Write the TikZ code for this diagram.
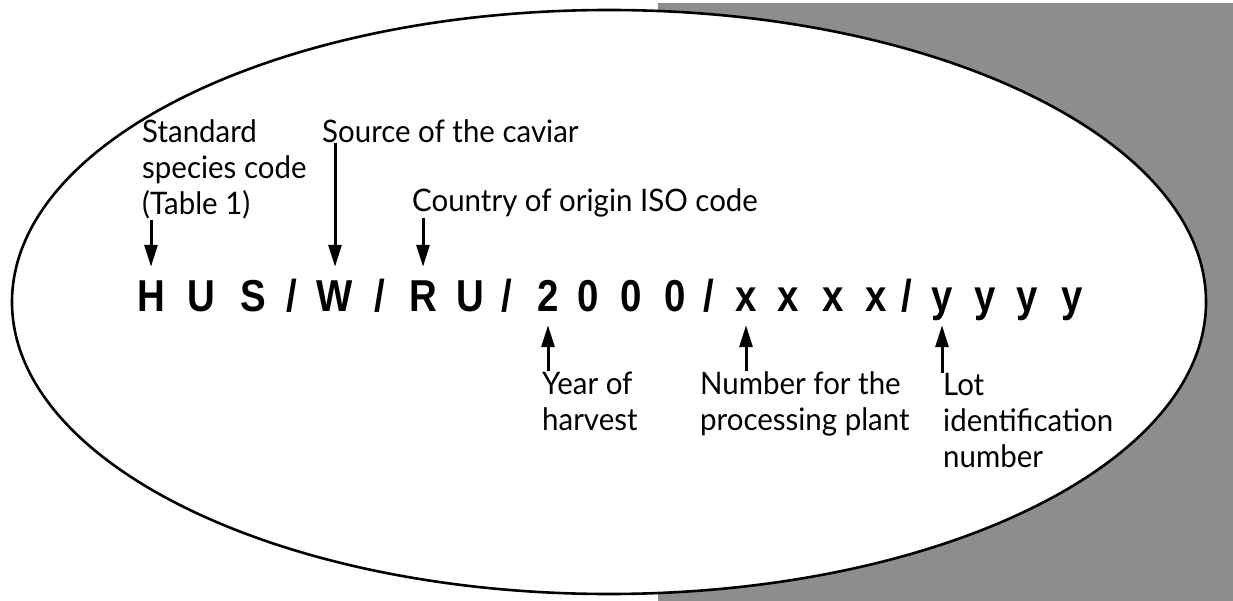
\documentclass[tikz,border=0pt]{standalone}
\usepackage{fontspec}
\usepackage{tikz}
\usetikzlibrary{arrows.meta,positioning,calc}
\setmainfont[FakeStretch=0.95]{Lato}
\newfontfamily\codefont[FakeStretch=0.86]{Liberation Sans}
\definecolor{panelgrey}{RGB}{141,141,141}
\newcommand{\codeslash}{/}

\begin{document}
\begin{tikzpicture}[x=1pt, y=-1pt,
    lbl/.style={anchor=base west, align=left, inner sep=0pt,
        font=\fontsize{31}{36}\selectfont},
    codebold/.style={anchor=base, inner xsep=0pt, inner ysep=13pt,
        text height=32pt, text depth=0pt,
        font=\codefont\bfseries\fontsize{44.7}{50}\selectfont},
    arr/.style={-{Triangle[length=22pt, width=13pt]}, line width=3pt}
]
    \useasboundingbox (0,0) rectangle (1233,601);
    \fill[panelgrey] (658,3) rectangle (1233,601);
    \draw[line width=2.6pt, fill=white] (609,302) ellipse [x radius=597pt, y radius=292pt];

    % the code line
    \foreach \ch/\cx [count=\i] in {H/151, U/201, S/253, \codeslash/292, W/335,
        \codeslash/380, R/423, U/470, \codeslash/507, 2/548, 0/588, 0/631, 0/675,
        \codeslash/709, x/746, x/788, x/833, x/876, \codeslash/907, y/942, y/985,
        y/1027, y/1072}
        \node[codebold] (c\i) at (\cx,312) {\ch};

    % labels above (base = last line)
    \node[lbl] (std) at (142,215) {Standard\\species code\\(Table 1)};
    \node[lbl] (src) at (322,143) {Source of the caviar};
    \node[lbl] (iso) at (412,212) {Country of origin ISO code};

    % labels below
    \node[lbl] (yr)  at (542,430) {Year of\\harvest};
    \node[lbl] (pp)  at (700,430) {Number for the\\processing plant};
    \node[lbl] (lot) at (943,467) {Lot\\identification\\number};

    \draw[arr] (c1.north |- std.south) -- (c1.north);
    \draw[arr] (c5.north |- src.south) -- (c5.north);
    \draw[arr] (c7.north |- iso.south) -- (c7.north);
    \draw[arr] (c10.south |- yr.north) -- (c10.south);
    \draw[arr] (c15.south |- pp.north) -- (c15.south);
    \draw[arr] (c20.south |- lot.north) -- (c20.south);
\end{tikzpicture}
\end{document}
